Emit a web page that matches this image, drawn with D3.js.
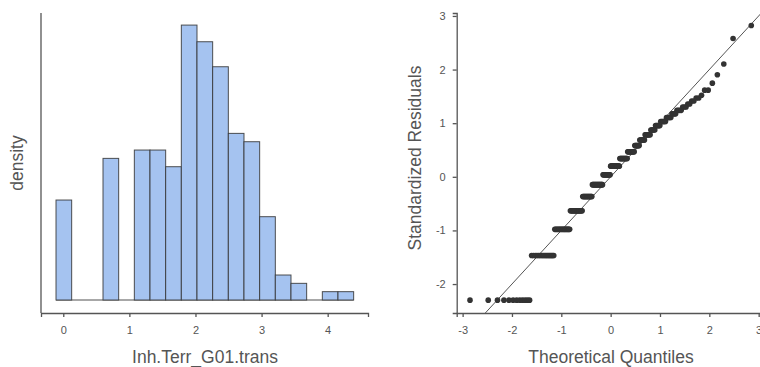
<!DOCTYPE html>
<html>
<head>
<meta charset="utf-8">
<script src="https://cdn.jsdelivr.net/npm/d3@7"></script>
<style>
  html, body { margin: 0; padding: 0; background: #fff; }
  svg { display: block; font-family: "Liberation Sans", Arial, Helvetica, sans-serif; }
</style>
</head>
<body>
<svg id="chart" width="760" height="367"></svg>
<script>
// Histogram of Inh.Terr_G01.trans: bin edges and counts per bin
const histBinStart = -0.11;
const histBinWidth = 0.237;
const histCounts = [12, 0, 0, 17, 0, 18, 18, 16, 33, 31, 28, 20, 19, 10, 3, 2, 0, 1, 1];
const histTicks = [0, 1, 2, 3, 4];

// Q-Q plot: distinct standardized residual levels and how many cases sit at each
const residLevels = [-2.30, -1.467, -0.98, -0.634, -0.366, -0.146, 0.039, 0.199, 0.341, 0.468,
                     0.582, 0.687, 0.783, 0.872, 0.955, 1.032, 1.105, 1.174, 1.239, 1.301,
                     1.359, 1.415, 1.469, 1.52, 1.616, 1.747, 1.903, 2.103, 2.58, 2.823];
const residCounts = [12, 17, 18, 18, 16, 19, 14, 17, 14, 12,
                     8, 8, 8, 6, 6, 6, 5, 4, 4, 3,
                     2, 2, 2, 1, 2, 1, 1, 1, 1, 1];
const qqXTicks = [-3, -2, -1, 0, 1, 2, 3];
const qqYTicks = [-2, -1, 0, 1, 2, 3];

const svg = d3.select("#chart");
const axisCol = "#555";
const textCol = "#555";

// ---------- Left panel: histogram ----------
const hx = d3.scaleLinear().domain([-0.337, 4.61]).range([41, 368]);
const hy = d3.scaleLinear().domain([0, 34.45]).range([300, 13]);

const bins = histCounts.map((c, i) => ({
  x0: histBinStart + i * histBinWidth,
  x1: histBinStart + (i + 1) * histBinWidth,
  n: c
}));

const gh = svg.append("g");
// baseline under the bars (visible where a bin is empty)
gh.append("line")
  .attr("x1", hx(bins[0].x0)).attr("x2", hx(bins[bins.length - 1].x1))
  .attr("y1", hy(0)).attr("y2", hy(0))
  .attr("stroke", "#333").attr("stroke-opacity", 0.85).attr("stroke-width", 1);
gh.selectAll("rect.bar").data(bins.filter(d => d.n > 0)).join("rect")
  .attr("class", "bar")
  .attr("x", d => hx(d.x0))
  .attr("width", d => hx(d.x1) - hx(d.x0))
  .attr("y", d => hy(d.n))
  .attr("height", d => hy(0) - hy(d.n))
  .attr("fill", "#a5c3f0")
  .attr("stroke", "#333")
  .attr("stroke-opacity", 0.85)
  .attr("stroke-width", 1);

// y axis (no ticks) and offset x axis
gh.append("line").attr("x1", 41).attr("x2", 41).attr("y1", 13).attr("y2", 313)
  .attr("stroke", axisCol).attr("stroke-width", 1.3);
const hxAxis = gh.append("g").attr("transform", "translate(0,313)")
  .call(d3.axisBottom(hx).tickValues(histTicks).tickSize(4).tickPadding(9).tickFormat(d3.format("d")));
hxAxis.select(".domain").attr("stroke", axisCol).attr("stroke-width", 1.3);
hxAxis.selectAll(".tick line").attr("stroke", axisCol).attr("stroke-width", 1.3);
hxAxis.selectAll(".tick text").attr("fill", textCol).attr("font-size", 11)
  .attr("font-family", "Liberation Sans, Arial, sans-serif");

gh.append("text").attr("x", 205).attr("y", 363).attr("text-anchor", "middle")
  .attr("fill", textCol).attr("font-size", 17.5).text("Inh.Terr_G01.trans");
gh.append("text").attr("transform", "translate(23,163) rotate(-90)").attr("text-anchor", "middle")
  .attr("fill", textCol).attr("font-size", 17.5).text("density");

// ---------- Right panel: normal Q-Q plot ----------
const qx = d3.scaleLinear().domain([-3.12, 3.027]).range([456.7, 760]);
const qy = d3.scaleLinear().domain([-2.54, 3.055]).range([313, 13]);

const resid = [];
residLevels.forEach((v, i) => { for (let k = 0; k < residCounts[i]; k++) resid.push(v); });
resid.sort(d3.ascending);
const n = resid.length;
function qnorm(p) {
  // Acklam's rational approximation of the standard normal inverse CDF
  const a = [-39.69683028665376, 220.9460984245205, -275.9285104469687, 138.3577518672690, -30.66479806614716, 2.506628277459239];
  const b = [-54.47609879822406, 161.5858368580409, -155.6989798598866, 66.80131188771972, -13.28068155288572];
  const c = [-0.007784894002430293, -0.3223964580411365, -2.400758277161838, -2.549732539343734, 4.374664141464968, 2.938163982698783];
  const d = [0.007784695709041462, 0.3224671290700398, 2.445134137142996, 3.754408661907416];
  const pl = 0.02425;
  let q, r;
  if (p < pl) {
    q = Math.sqrt(-2 * Math.log(p));
    return (((((c[0]*q+c[1])*q+c[2])*q+c[3])*q+c[4])*q+c[5]) / ((((d[0]*q+d[1])*q+d[2])*q+d[3])*q+1);
  } else if (p <= 1 - pl) {
    q = p - 0.5; r = q * q;
    return (((((a[0]*r+a[1])*r+a[2])*r+a[3])*r+a[4])*r+a[5])*q / (((((b[0]*r+b[1])*r+b[2])*r+b[3])*r+b[4])*r+1);
  }
  q = Math.sqrt(-2 * Math.log(1 - p));
  return -(((((c[0]*q+c[1])*q+c[2])*q+c[3])*q+c[4])*q+c[5]) / ((((d[0]*q+d[1])*q+d[2])*q+d[3])*q+1);
}
const qqPoints = resid.map((v, i) => ({ t: qnorm((i + 0.5) / n), r: v }));

svg.append("defs").append("clipPath").attr("id", "qqclip")
  .append("rect").attr("x", 456.7).attr("y", 13).attr("width", 760 - 456.7).attr("height", 300);

const gq = svg.append("g");
// reference line y = x
gq.append("line").attr("clip-path", "url(#qqclip)")
  .attr("x1", qx(-3.2)).attr("y1", qy(-3.2)).attr("x2", qx(3.2)).attr("y2", qy(3.2))
  .attr("stroke", "#555").attr("stroke-width", 1);

gq.selectAll("circle").data(qqPoints).join("circle")
  .attr("cx", d => qx(d.t)).attr("cy", d => qy(d.r)).attr("r", 2.8)
  .attr("fill", "#333");

const qxAxis = gq.append("g").attr("transform", "translate(0,313)")
  .call(d3.axisBottom(qx).tickValues(qqXTicks).tickSize(4).tickPadding(9).tickFormat(d3.format("d")));
const qyAxis = gq.append("g").attr("transform", "translate(456.7,0)")
  .call(d3.axisLeft(qy).tickValues(qqYTicks).tickSize(4).tickPadding(7).tickFormat(d3.format("d")));
[qxAxis, qyAxis].forEach(ax => {
  ax.select(".domain").attr("stroke", axisCol).attr("stroke-width", 1.3);
  ax.selectAll(".tick line").attr("stroke", axisCol).attr("stroke-width", 1.3);
  ax.selectAll(".tick text").attr("fill", textCol).attr("font-size", 11)
    .attr("font-family", "Liberation Sans, Arial, sans-serif");
});
qxAxis.selectAll(".tick text").text(d => d < 0 ? "-" + Math.abs(d) : d);
qyAxis.selectAll(".tick text").text(d => d < 0 ? "-" + Math.abs(d) : d);

gq.append("text").attr("x", 611).attr("y", 363).attr("text-anchor", "middle")
  .attr("fill", textCol).attr("font-size", 17.5).text("Theoretical Quantiles");
gq.append("text").attr("transform", "translate(421,158) rotate(-90)").attr("text-anchor", "middle")
  .attr("fill", textCol).attr("font-size", 17.5).text("Standardized Residuals");
</script>
</body>
</html>
